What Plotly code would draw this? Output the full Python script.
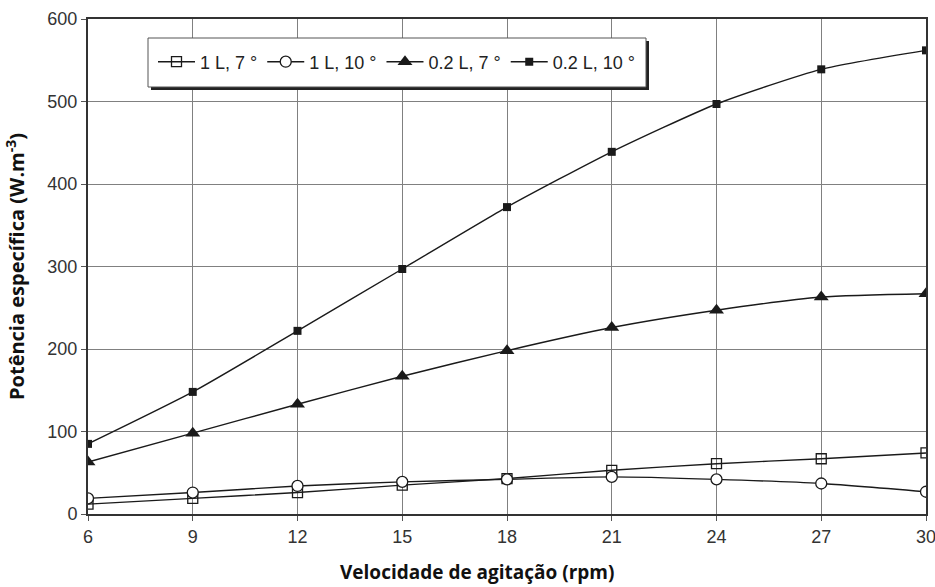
import plotly.graph_objects as go

# Agitation speed (rpm)
rpm = [6, 9, 12, 15, 18, 21, 24, 27, 30]

# Specific power (W.m-3) for each volume / angle combination
p_1L_7 = [12, 19, 26, 35, 43, 53, 61, 67, 74]
p_1L_10 = [19, 26, 34, 39, 42, 45, 42, 37, 27]
p_02L_7 = [63, 98, 133, 167, 198, 226, 247, 263, 267]
p_02L_10 = [85, 148, 222, 297, 372, 439, 497, 539, 562]

series_names = ["1 L, 7 °", "1 L, 10 °", "0.2 L, 7 °", "0.2 L, 10 °"]
x_ticks = [6, 9, 12, 15, 18, 21, 24, 27, 30]
y_ticks = [0, 100, 200, 300, 400, 500, 600]

LINE = "#1a1a1a"

fig = go.Figure()

styles = [
    (p_1L_7, dict(symbol="square-open", size=10, color=LINE, line=dict(width=1.3, color=LINE))),
    (p_1L_10, dict(symbol="circle", size=11, color="white", line=dict(width=1.3, color=LINE))),
    (p_02L_7, dict(symbol="triangle-up", size=13, color=LINE, line=dict(width=0))),
    (p_02L_10, dict(symbol="square", size=8, color=LINE, line=dict(width=0))),
]

for name, (vals, marker) in zip(series_names, styles):
    fig.add_trace(go.Scatter(
        x=rpm, y=vals, name=name,
        mode="lines+markers",
        line=dict(color=LINE, width=1.4, shape="spline", smoothing=0.6),
        marker=marker,
    ))

# plot-area geometry in pixels, used to place the legend frame and x title
L, R, T, B = 88, 926, 19, 514
W, H = R - L, B - T


def px_x(px):
    return (px - L) / W


def px_y(py):
    return (B - py) / H


box = (148, 38, 646, 87)
# drop shadow behind the legend frame
fig.add_shape(type="rect", xref="paper", yref="paper", layer="above",
              x0=px_x(box[0] + 3), x1=px_x(box[2] + 3),
              y0=px_y(box[3] + 3), y1=px_y(box[1] + 3),
              fillcolor="#222", line=dict(width=0))
fig.add_shape(type="rect", xref="paper", yref="paper", layer="above",
              x0=px_x(box[0]), x1=px_x(box[2]),
              y0=px_y(box[3]), y1=px_y(box[1]),
              fillcolor="white", line=dict(color="#555", width=1))

title_font = dict(family="Open Sans, sans-serif", size=19, color="#111", weight="bold")

fig.add_annotation(
    text="Velocidade de agitação (rpm)", xref="paper", yref="paper",
    x=px_x(477), y=px_y(572), xanchor="center", yanchor="middle",
    showarrow=False, font=title_font,
)

fig.update_layout(
    width=935, height=587,
    margin=dict(l=L, r=935 - R, t=T, b=587 - B),
    paper_bgcolor="white", plot_bgcolor="white",
    font=dict(family="Liberation Sans, Arial, sans-serif", size=18, color="#333"),
    showlegend=True,
    legend=dict(
        orientation="h",
        x=px_x(153), y=px_y(62), xanchor="left", yanchor="middle",
        bgcolor="rgba(0,0,0,0)", borderwidth=0,
        font=dict(family="Liberation Sans, Arial, sans-serif", size=18, color="#222"),
        itemwidth=37,
    ),
    xaxis=dict(
        range=[6, 30], tickvals=x_ticks,
        showgrid=True, gridcolor="#808080", gridwidth=1,
        showline=True, linecolor="#333", linewidth=2, mirror=True,
        ticks="outside", ticklen=5, tickcolor="#555",
        zeroline=False, automargin=False, ticklabeloverflow="allow",
    ),
    yaxis=dict(
        range=[0, 600], tickvals=y_ticks,
        showgrid=True, gridcolor="#808080", gridwidth=1,
        showline=True, linecolor="#333", linewidth=2, mirror=True,
        ticks="outside", ticklen=5, tickcolor="#555",
        zeroline=False, automargin=False,
        title=dict(text="Potência específica (W.m<sup>-3</sup>)", standoff=17,
                   font=dict(family="Open Sans, sans-serif", size=20, color="#111", weight="bold")),
    ),
)

fig.write_html("out.html")
